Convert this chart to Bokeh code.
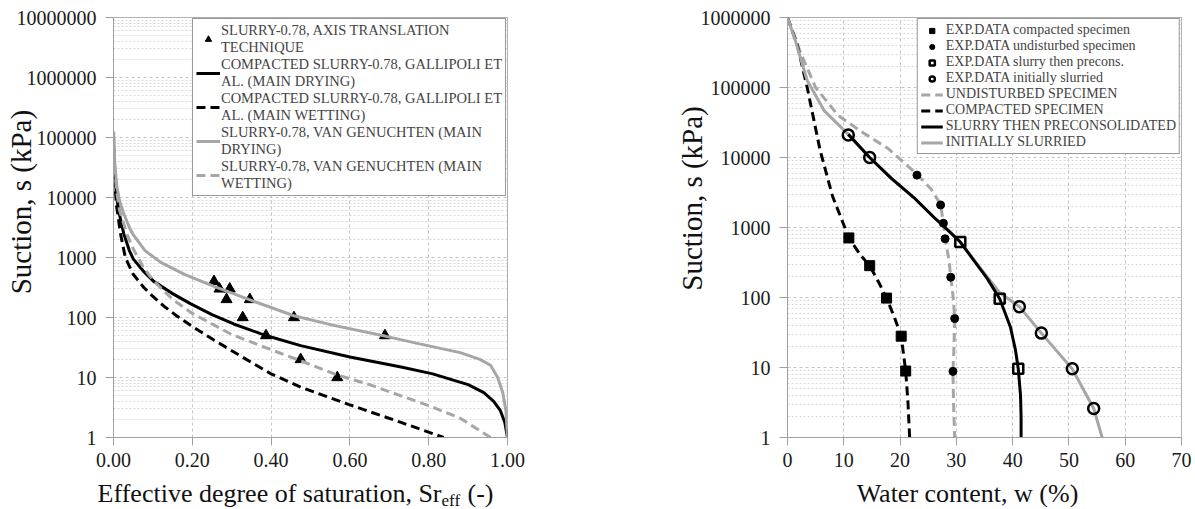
import math
from bokeh.plotting import figure
from bokeh.layouts import row, column
from bokeh.models import Range1d, FixedTicker, Legend, LegendItem, Label
from bokeh.embed import file_html
from bokeh.resources import INLINE

SERIF = "Liberation Serif"
GRAY = "#a6a6a6"
NB = "\u00a0"

# ---------------- LEFT CHART DATA (Sr_eff, suction kPa) ----------------
tri_sr = [0.255, 0.269, 0.295, 0.287, 0.346, 0.328, 0.458, 0.387, 0.689, 0.475, 0.568]
tri_s = [400, 300, 300, 200, 200, 100, 100, 50, 50, 20, 10]

gd_sr = [0.0005, 0.003, 0.008, 0.015, 0.026, 0.04, 0.05, 0.075, 0.102, 0.15, 0.195, 0.25,
         0.305, 0.387, 0.475, 0.6, 0.73, 0.81, 0.9, 0.94, 0.965, 0.982, 0.993, 1.0]
gd_s = [70000, 25000, 10000, 5250, 2500, 1320, 950, 600, 400, 250, 170, 112,
        78, 50, 34, 22, 15, 11.5, 7.6, 5.6, 4.0, 2.8, 1.8, 1]

gw_sr = [0.0005, 0.003, 0.008, 0.018, 0.03, 0.05, 0.077, 0.1, 0.13, 0.16, 0.2, 0.255,
         0.3, 0.35, 0.4, 0.475, 0.6, 0.728, 0.838]
gw_s = [63000, 17800, 7100, 2450, 1000, 525, 316, 224, 151, 107, 71, 42,
        28, 17.8, 11.5, 6.9, 3.5, 1.8, 1]

vd_sr = [0.0005, 0.003, 0.008, 0.015, 0.026, 0.04, 0.05, 0.08, 0.12, 0.18, 0.255, 0.348,
         0.458, 0.559, 0.689, 0.771, 0.88, 0.93, 0.957, 0.975, 0.988, 0.996, 1.0]
vd_s = [126000, 40000, 16000, 9000, 5400, 3200, 2400, 1300, 830, 525, 330, 195,
        107, 74, 49, 37, 26, 20, 16, 10, 5.6, 2.8, 1]

vw_sr = [0.0005, 0.003, 0.008, 0.015, 0.034, 0.05, 0.075, 0.1, 0.15, 0.2, 0.3, 0.4,
         0.475, 0.568, 0.65, 0.728, 0.8, 0.88, 0.957]
vw_s = [100000, 31600, 12600, 6300, 2450, 1400, 700, 420, 200, 117, 52, 29,
        19, 11, 7.6, 5.0, 3.4, 2.1, 1]

left_xticks = [0.0, 0.2, 0.4, 0.6, 0.8, 1.0]
left_xlabels = ["0.00", "0.20", "0.40", "0.60", "0.80", "1.00"]
left_yticks = [1, 10, 100, 1000, 10000, 100000, 1000000, 10000000]
left_ylabels = ["1", "10", "100", "1000", "10000", "100000", "1000000", "10000000"]

# ---------------- RIGHT CHART DATA (water content %, suction kPa) ----------------
cmp_w = [10.9, 14.6, 17.6, 20.2, 21.0]
cmp_s = [710, 285, 98, 28, 8.9]
und_w = [23.0, 27.2, 27.7, 28.0, 29.0, 29.7, 29.4]
und_s = [5600, 2100, 1150, 690, 195, 50, 8.8]
slp_w = [30.7, 37.7, 41.0]
slp_s = [620, 96, 9.6]
ini_w = [10.8, 14.6, 41.2, 45.1, 50.6, 54.4]
ini_s = [21000, 10000, 74, 31, 9.6, 2.6]

und_line_w = [0, 2.3, 5.0, 9.0, 13.5, 18.0, 23.0, 25.5, 27.2, 27.7, 28.0, 28.7, 29.0,
              29.5, 29.7, 29.6, 29.4, 29.5, 29.7]
und_line_s = [1000000, 316000, 100000, 39800, 22400, 13200, 5750, 3550, 2140, 1150, 690,
              339, 195, 91, 50, 21.9, 8.7, 3.16, 1]
cmp_line_w = [0, 1.7, 3.5, 5.8, 8.0, 10.9, 13.0, 14.6, 16.2, 17.6, 19.0, 20.2, 21.0, 21.4, 21.7]
cmp_line_s = [1000000, 417000, 100000, 12600, 2800, 710, 400, 285, 165, 98, 52, 28, 8.9, 3.2, 1]
slp_line_w = [10.8, 14.6, 18.5, 22.4, 26.0, 28.4, 30.7, 33.1, 35.5, 37.7, 39.6, 40.5, 41.0,
              41.4, 41.5, 41.5]
slp_line_s = [21400, 10000, 5000, 2700, 1400, 930, 620, 340, 186, 96, 38, 17.8, 9.6, 4.0, 2.0, 1]
ini_line_w = [0, 1.4, 3.5, 6.5, 10.8, 14.6, 18.5, 22.4, 26.0, 28.4, 30.7, 34.0, 37.7, 41.2,
              45.1, 50.6, 54.4, 55.9]
ini_line_s = [1000000, 468000, 126000, 46800, 21400, 10000, 5000, 2700, 1400, 930, 620, 280,
              117, 74, 31, 9.5, 2.6, 1]

right_xticks = [0, 10, 20, 30, 40, 50, 60, 70]
right_xlabels = ["0", "10", "20", "30", "40", "50", "60", "70"]
right_yticks = [1, 10, 100, 1000, 10000, 100000, 1000000]
right_ylabels = ["1", "10", "100", "1000", "10000", "100000", "1000000"]


def minor_list(majors):
    out = []
    for m in majors[:-1]:
        for k in range(2, 10):
            out.append(m * k)
    return out


def style(p, xt, xl, yt, yl):
    p.xaxis.ticker = FixedTicker(ticks=xt)
    p.xaxis.major_label_overrides = {t: l for t, l in zip(xt, xl)}
    p.yaxis.ticker = FixedTicker(ticks=yt, minor_ticks=minor_list(yt))
    p.yaxis.major_label_overrides = {t: l for t, l in zip(yt, yl)}
    for ax in (p.xaxis, p.yaxis):
        ax.axis_line_color = "#a0a0a0"
        ax.major_tick_line_color = "#a0a0a0"
        ax.major_tick_out = 8
        ax.major_tick_in = 0
        ax.minor_tick_line_color = None
        ax.major_label_text_font = SERIF
        ax.major_label_text_font_size = "20px"
        ax.major_label_text_color = "#1a1a1a"
    p.xaxis.major_label_standoff = 7
    p.yaxis.major_label_standoff = 9
    p.yaxis.axis_label_text_font = SERIF
    p.yaxis.axis_label_text_font_size = "29px"
    p.yaxis.axis_label_text_font_style = "normal"
    p.yaxis.axis_label_text_color = "#111111"
    p.xgrid.grid_line_color = "#c4c4c4"
    p.xgrid.grid_line_dash = "3 3"
    p.ygrid.grid_line_color = "#c4c4c4"
    p.ygrid.grid_line_dash = "3 3"
    p.ygrid.minor_grid_line_color = "#d8d8d8"
    p.ygrid.minor_grid_line_dash = "2 2"
    p.outline_line_color = "#b0b0b0"
    p.background_fill_color = "white"
    p.border_fill_color = "white"


def helper(width, labels):
    h = figure(width=width, height=34, x_range=Range1d(0, 1), y_range=Range1d(0, 1),
               output_backend="svg", toolbar_location=None, x_axis_location=None,
               y_axis_location=None, min_border=0)
    h.min_border_left = h.min_border_right = h.min_border_top = h.min_border_bottom = 0
    h.outline_line_color = None
    h.xgrid.visible = False
    h.ygrid.visible = False
    for kw in labels:
        h.add_layout(Label(x_units="screen", y_units="screen", text_font=SERIF,
                           text_color="#111111", text_baseline="middle", **kw))
    return h


# ---------------- LEFT FIGURE ----------------
p1 = figure(width=600, height=475, x_range=Range1d(0, 1), y_range=Range1d(1, 1e7),
            y_axis_type="log", output_backend="svg", toolbar_location=None,
            min_border_left=113, min_border_right=93, min_border_top=17, min_border_bottom=38)
style(p1, left_xticks, left_xlabels, left_yticks, left_ylabels)
p1.yaxis.axis_label = NB * 7 + "Suction, s (kPa)"
p1.yaxis.axis_label_standoff = -23

r_tri = p1.scatter(tri_sr, tri_s, marker="triangle", size=11, color="black")
r_gd = p1.line(gd_sr, gd_s, line_color="black", line_width=3)
r_gw = p1.line(gw_sr, gw_s, line_color="black", line_width=3, line_dash="9 5")
r_vd = p1.line(vd_sr, vd_s, line_color=GRAY, line_width=3)
r_vw = p1.line(vw_sr, vw_s, line_color=GRAY, line_width=3, line_dash="9 5")

leg1 = Legend(items=[
    LegendItem(label="SLURRY-0.78, AXIS TRANSLATION\nTECHNIQUE", renderers=[r_tri]),
    LegendItem(label="COMPACTED SLURRY-0.78, GALLIPOLI ET\nAL. (MAIN DRYING)", renderers=[r_gd]),
    LegendItem(label="COMPACTED SLURRY-0.78, GALLIPOLI ET\nAL. (MAIN WETTING)", renderers=[r_gw]),
    LegendItem(label="SLURRY-0.78, VAN GENUCHTEN (MAIN\nDRYING)", renderers=[r_vd]),
    LegendItem(label="SLURRY-0.78, VAN GENUCHTEN (MAIN\nWETTING)", renderers=[r_vw]),
], location="top_right", margin=1, padding=3, spacing=0, glyph_width=24, glyph_height=16,
    label_standoff=1, label_text_font=SERIF, label_text_font_size="14.5px",
    label_text_line_height=1.28, border_line_color="#303030", border_line_width=1,
    background_fill_alpha=1.0)
p1.add_layout(leg1)

# ---------------- RIGHT FIGURE ----------------
p2 = figure(width=595, height=475, x_range=Range1d(0, 70), y_range=Range1d(1, 1e6),
            y_axis_type="log", output_backend="svg", toolbar_location=None,
            min_border_left=187, min_border_right=14, min_border_top=17, min_border_bottom=38)
style(p2, right_xticks, right_xlabels, right_yticks, right_ylabels)
p2.yaxis.axis_label = NB * 8 + "Suction, s (kPa)"
p2.yaxis.axis_label_standoff = -10

r_und_l = p2.line(und_line_w, und_line_s, line_color=GRAY, line_width=3, line_dash="9 5")
r_cmp_l = p2.line(cmp_line_w, cmp_line_s, line_color="black", line_width=3, line_dash="9 5")
r_ini_l = p2.line(ini_line_w, ini_line_s, line_color=GRAY, line_width=3)
r_slp_l = p2.line(slp_line_w, slp_line_s, line_color="black", line_width=3)

r_cmp = p2.scatter(cmp_w, cmp_s, marker="square", size=10, color="black")
r_und = p2.scatter(und_w, und_s, marker="circle", size=8, color="black")
r_slp = p2.scatter(slp_w, slp_s, marker="square", size=10, fill_color=None,
                   line_color="black", line_width=2.5)
r_ini = p2.scatter(ini_w, ini_s, marker="circle", size=11, fill_color=None,
                   line_color="black", line_width=2.5)

leg2 = Legend(items=[
    LegendItem(label="EXP.DATA compacted specimen", renderers=[r_cmp]),
    LegendItem(label="EXP.DATA undisturbed specimen", renderers=[r_und]),
    LegendItem(label="EXP.DATA slurry then precons.", renderers=[r_slp]),
    LegendItem(label="EXP.DATA initially slurried", renderers=[r_ini]),
    LegendItem(label="UNDISTURBED SPECIMEN", renderers=[r_und_l]),
    LegendItem(label="COMPACTED SPECIMEN", renderers=[r_cmp_l]),
    LegendItem(label="SLURRY THEN PRECONSOLIDATED", renderers=[r_slp_l]),
    LegendItem(label="INITIALLY SLURRIED", renderers=[r_ini_l]),
], location="top_right", margin=1, padding=3, spacing=0, glyph_width=22, glyph_height=13,
    label_height=13, label_standoff=3, label_text_font=SERIF, label_text_font_size="14px",
    label_text_line_height=1.0, border_line_color="#303030", border_line_width=1,
    background_fill_alpha=1.0)
p2.add_layout(leg2)

# ---------------- X-AXIS TITLES ----------------
h1 = helper(600, [
    dict(x=441, y=16, text="Effective degree of saturation, Sr", text_align="right",
         text_font_size="26px"),
    dict(x=441, y=9, text="eff", text_align="left", text_font_size="17px"),
    dict(x=467, y=16, text="(-)", text_align="left", text_font_size="26px"),
])
h2 = helper(595, [
    dict(x=367, y=16, text="Water content, w (%)", text_align="center", text_font_size="26px"),
])

layout = column(row(p1, p2), row(h1, h2))
open("out.html", "w").write(file_html(layout, INLINE))
